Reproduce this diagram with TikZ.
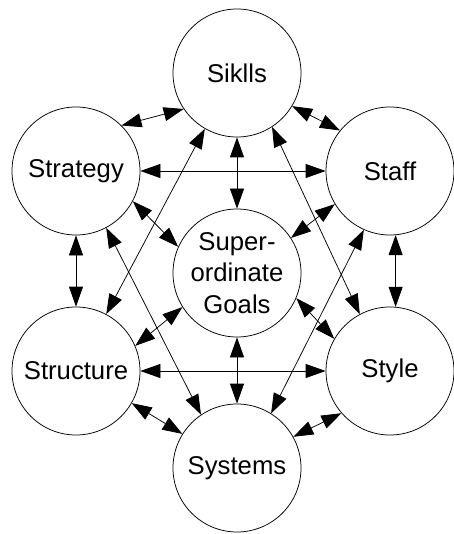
\documentclass[tikz,border=0pt]{standalone}
\usepackage{fontspec}
\setmainfont{Liberation Sans}
\usetikzlibrary{arrows.meta}
\begin{document}
\begin{tikzpicture}[x=1pt,y=-1pt,
    elem/.style={circle,draw,line width=0.75pt,minimum size=128pt,inner sep=0pt,
      align=center,font=\fontsize{25.7}{31.5}\selectfont},
    link/.style={{Triangle[length=20pt,width=14pt]}-{Triangle[length=20pt,width=14pt]},line width=0.75pt}]
        \useasboundingbox (0,0) rectangle (453,534);

        % Circles
        \node[elem] (skills) at (237,73) {Siklls};
        \node[elem] (strategy) at (76,171) {Strategy};
        \node[elem] (staff) at (390,171) {Staff};
        \node[elem] (goals) at (237,273) {Super-\\ordinate\\Goals};
        \node[elem] (structure) at (76,371) {Structure};
        \node[elem] (style) at (390,371) {Style};
        \node[elem] (systems) at (237,468) {Systems};

        % Links from Skills
        \draw[link] (skills.214) -- (strategy.45);
        \draw[link] (skills.329) -- (staff.141);
        \draw[link] (skills.south) -- (goals.north);
        \draw[link] (skills.240) -- (structure.62);
        \draw[link] (skills.-57) -- (style.118);

        % Links from Strategy
        \draw[link] (strategy.east) -- (staff.west);
        \draw[link] (strategy.-28) -- (goals.156);
        \draw[link] (strategy.south) -- (structure.north);
        \draw[link] (strategy.-62) -- (systems.124);

        % Links from Staff
        \draw[link] (staff.211) -- (goals.33);
        \draw[link] (staff.-85) -- (style.85);
        \draw[link] (staff.246) -- (systems.58);

        % Links from the goals
        \draw[link] (goals.212) -- (structure.23);
        \draw[link] (goals.-23) -- (style.150);
        \draw[link] (goals.south) -- (systems.north);

        % Bottom links
        \draw[link] (structure.east) -- (style.west);
        \draw[link] (structure.-30) -- (systems.148);
        \draw[link] (style.221) -- (systems.29);
\end{tikzpicture}
\end{document}
